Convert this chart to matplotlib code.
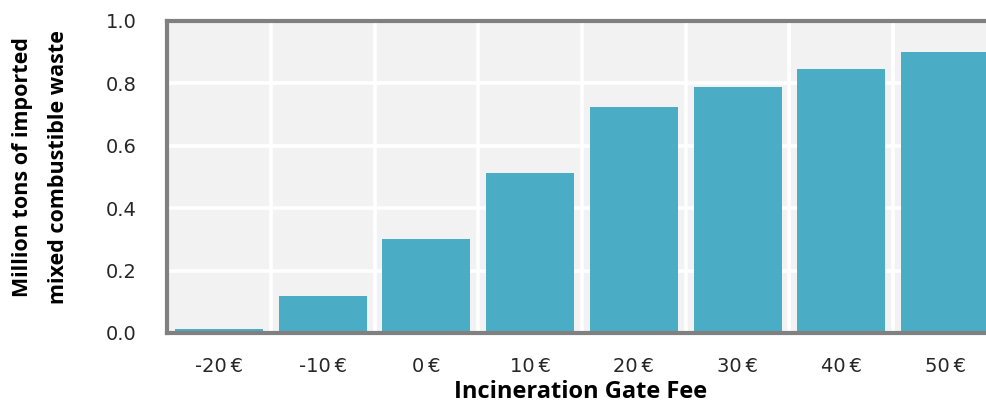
import matplotlib
matplotlib.use("Agg")
import matplotlib.pyplot as plt
from matplotlib.ticker import FixedLocator

categories = ["-20\u2009€", "-10\u2009€", "0\u2009€", "10\u2009€", "20\u2009€", "30\u2009€", "40\u2009€", "50\u2009€"]
values = [0.012, 0.12, 0.30, 0.513, 0.725, 0.79, 0.845, 0.90]
yticks = [0.0, 0.2, 0.4, 0.6, 0.8, 1.0]
ylabel_lines = ["Million tons of imported", "mixed combustible waste"]
xlabel = "Incineration Gate Fee"

W, H = 986, 405
fig = plt.figure(figsize=(W / 100, H / 100), dpi=100)
fig.patch.set_facecolor("white")

left, right, top, bottom = 167, 997, 21, 333
ax = fig.add_axes([left / W, 1 - bottom / H, (right - left) / W, (bottom - top) / H])
ax.set_facecolor("#f2f2f2")

x = list(range(len(categories)))
ax.bar(x, values, width=0.85, color="#4bacc6", zorder=3)

ax.set_xlim(-0.5, len(categories) - 0.5)
ax.set_ylim(0, 1.0)

ax.set_xticks(x)
ax.set_xticklabels(categories)
ax.xaxis.set_minor_locator(FixedLocator([i + 0.5 for i in range(len(categories) - 1)]))
ax.set_yticks(yticks)
ax.set_yticklabels([f"{v:.1f}" for v in yticks])

ax.grid(which="minor", axis="x", color="white", linewidth=2.6, zorder=1)
ax.grid(which="major", axis="y", color="white", linewidth=2.6, zorder=1)
ax.set_axisbelow(True)

ax.tick_params(axis="both", which="both", length=0)
ax.tick_params(axis="x", pad=17, labelsize=14, labelcolor="#262626")
ax.tick_params(axis="y", pad=22, labelsize=14, labelcolor="#262626")
for lab in ax.get_xticklabels() + ax.get_yticklabels():
    lab.set_fontfamily("DejaVu Sans")

for s in ["left", "top", "bottom", "right"]:
    ax.spines[s].set_color("#808080")
    ax.spines[s].set_linewidth(3)
    ax.spines[s].set_zorder(5)

fig.text(581 / W, 1 - 404 / H, xlabel, ha="center", va="bottom",
         fontsize=17, fontweight="bold", fontfamily="Open Sans", color="black")

fig.text(23 / W, 1 - 167 / H, ylabel_lines[0], ha="center", va="center", rotation=90,
         fontsize=15.5, fontweight="bold", fontfamily="Open Sans", color="black")
fig.text(59 / W, 1 - 167 / H, ylabel_lines[1], ha="center", va="center", rotation=90,
         fontsize=15.5, fontweight="bold", fontfamily="Open Sans", color="black")

fig.savefig("out.png", dpi=100)
